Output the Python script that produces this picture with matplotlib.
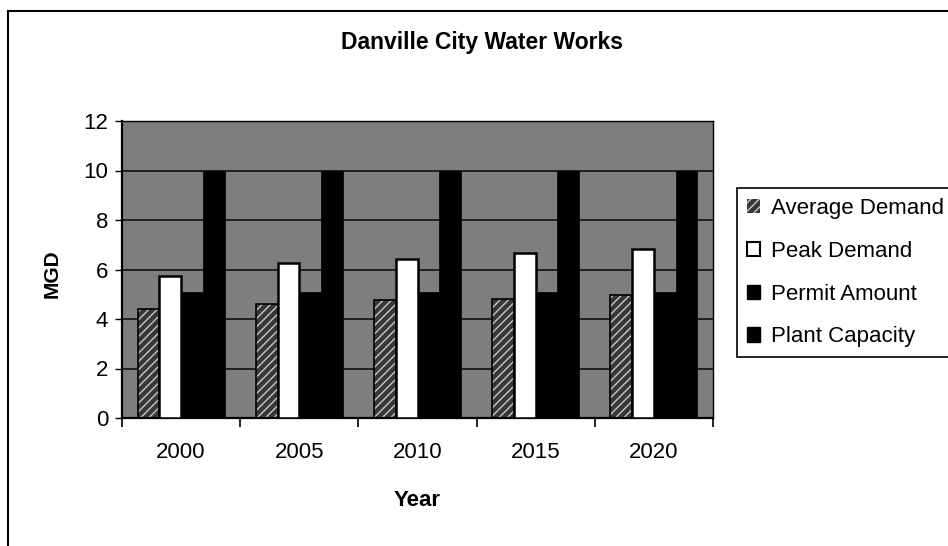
import matplotlib.pyplot as plt
import numpy as np
from matplotlib.lines import Line2D
from matplotlib.patches import Patch

plt.rcParams["font.family"] = ["Liberation Sans", "DejaVu Sans"]

years = ["2000", "2005", "2010", "2015", "2020"]
average_demand = [4.4, 4.6, 4.75, 4.8, 4.95]
peak_demand = [5.75, 6.25, 6.42, 6.68, 6.83]
permit_amount = [5.1, 5.1, 5.1, 5.1, 5.1]
plant_capacity = [10, 10, 10, 10, 10]
y_ticks = [0, 2, 4, 6, 8, 10, 12]

fig = plt.figure(figsize=(9.48, 5.46), dpi=100)
ax = fig.add_axes([122 / 948, 1 - 418 / 546, 591 / 948, 297 / 546])
ax.set_facecolor("#7e7e7e")

x = np.arange(len(years))
width = 0.184

ax.set_axisbelow(True)
ax.yaxis.grid(True, color="#1a1a1a", linewidth=1.3)

# hatched bars: fill + light stripes first, then a black outline on top
ax.bar(x - 1.5 * width, average_demand, width, color="#383838",
       edgecolor="#c8c8c8", hatch="////", linewidth=0, zorder=2)
ax.bar(x - 1.5 * width, average_demand, width, facecolor="none",
       edgecolor="black", linewidth=1.2, zorder=3)
ax.bar(x - 0.5 * width, peak_demand, width, color="white",
       edgecolor="black", linewidth=1.8, zorder=3)
ax.bar(x + 0.5 * width, permit_amount, width, color="black",
       edgecolor="black", linewidth=0.5, zorder=3)
ax.bar(x + 1.5 * width, plant_capacity, width, color="black",
       edgecolor="black", linewidth=0.5, zorder=3)

ax.set_xlim(-0.5, len(years) - 0.5)
ax.set_ylim(0, 12)
ax.set_yticks(y_ticks)
ax.set_xticks(x)
ax.set_xticklabels(years)
ax.set_xticks(np.arange(len(years) + 1) - 0.5, minor=True)

ax.tick_params(axis="x", which="major", length=0, pad=17, labelsize=16)
ax.tick_params(axis="x", which="minor", length=6.5, width=1.2, direction="out")
ax.tick_params(axis="y", length=5, width=1.0, direction="out", pad=5, labelsize=16)

for side in ["left", "bottom"]:
    ax.spines[side].set_linewidth(1.6)
ax.spines["top"].set_linewidth(1.0)
ax.spines["right"].set_linewidth(1.0)

ax.set_ylabel("MGD", fontsize=15, fontweight="bold", va="center")
ax.yaxis.set_label_coords((52 - 122) / 591, 0.485)
ax.set_xlabel("Year", fontsize=16, fontweight="bold", va="center")
ax.xaxis.set_label_coords(0.5, -(501 - 418) / 297)

fig.text(482 / 948, 1 - 42 / 546, "Danville City Water Works",
         ha="center", va="center", fontsize=16.5, fontweight="bold")

handles = [
    Patch(facecolor="#383838", edgecolor="#c8c8c8", hatch="////", linewidth=0),
    Patch(facecolor="white", edgecolor="black", linewidth=1.5),
    Patch(facecolor="black", edgecolor="black"),
    Patch(facecolor="black", edgecolor="black"),
]
labels = ["Average Demand", "Peak Demand", "Permit Amount", "Plant Capacity"]
legend = fig.legend(
    handles,
    labels,
    loc="upper left",
    bbox_to_anchor=(737 / 948, 1 - 188 / 546),
    fontsize=16,
    frameon=True,
    fancybox=False,
    framealpha=1,
    edgecolor="black",
    borderaxespad=0,
    borderpad=0.45,
    handlelength=0.6,
    handleheight=0.6,
    handletextpad=0.5,
    labelspacing=0.98,
)
legend.get_frame().set_linewidth(1.2)

# outer chart frame (scan is cropped on the right and bottom)
fig.add_artist(Line2D([8 / 948, 1], [1 - 11 / 546, 1 - 11 / 546],
                      transform=fig.transFigure, color="black", linewidth=1.5))
fig.add_artist(Line2D([8 / 948, 8 / 948], [0, 1 - 11 / 546],
                      transform=fig.transFigure, color="black", linewidth=1.5))

fig.savefig("out.png", dpi=100)
